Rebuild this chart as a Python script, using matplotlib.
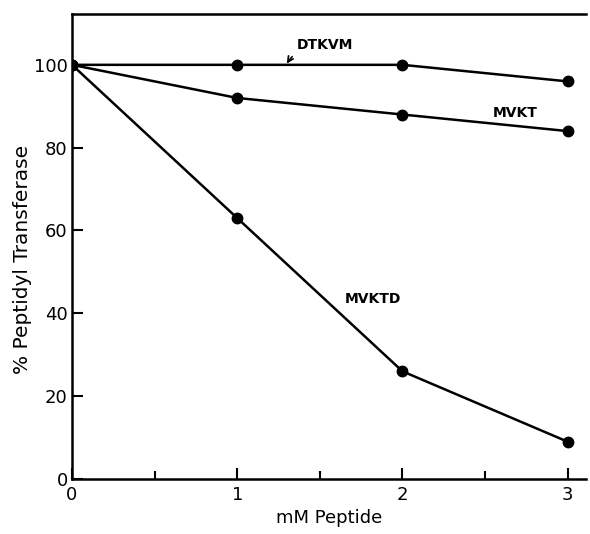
import matplotlib
matplotlib.use("Agg")
import matplotlib.pyplot as plt
from matplotlib.ticker import MultipleLocator

x = [0, 1, 2, 3]
dtkvm = [100, 100, 100, 96]
mvkt = [100, 92, 88, 84]
mvktd = [100, 63, 26, 9]

plt.rcParams['font.family'] = ['DejaVu Sans']

fig = plt.figure(figsize=(5.9, 5.34), dpi=100)
ax = fig.add_axes([0.122, 0.103, 0.871, 0.871])

for y in (dtkvm, mvkt, mvktd):
    ax.plot(x, y, color='black', lw=1.8, marker='o', ms=7.5, mfc='black', mec='black', zorder=3)

ax.set_xlim(0, 3.11)
ax.set_ylim(0, 112.3)
ax.spines['right'].set_visible(False)
for s in ('left', 'bottom', 'top'):
    ax.spines[s].set_linewidth(1.8)

ax.xaxis.set_major_locator(MultipleLocator(1))
ax.xaxis.set_minor_locator(MultipleLocator(0.5))
ax.yaxis.set_major_locator(MultipleLocator(20))
ax.tick_params(axis='both', which='both', direction='in', width=1.5, top=False, right=False)
ax.tick_params(axis='both', which='major', length=8, labelsize=13)
ax.tick_params(axis='x', which='major', pad=5)
ax.tick_params(axis='y', which='major', pad=3)
ax.tick_params(axis='x', which='minor', length=6)

ax.set_xlabel('mM Peptide', fontsize=13, labelpad=4)
ax.set_ylabel('% Peptidyl Transferase', fontsize=14.5)
ax.yaxis.set_label_coords(-0.078, 0.471)

ax.annotate('DTKVM', xy=(1.30, 100.3), xytext=(1.53, 104.8), fontsize=10, fontweight='bold',
            ha='center', va='center',
            arrowprops=dict(arrowstyle='->', color='black', lw=1.2, connectionstyle='arc3,rad=0.3', shrinkA=2, shrinkB=0))
ax.text(2.68, 88.4, 'MVKT', fontsize=10, fontweight='bold', ha='center', va='center')
ax.text(1.82, 43.5, 'MVKTD', fontsize=10, fontweight='bold', ha='center', va='center')

fig.savefig('out.png', dpi=100)
